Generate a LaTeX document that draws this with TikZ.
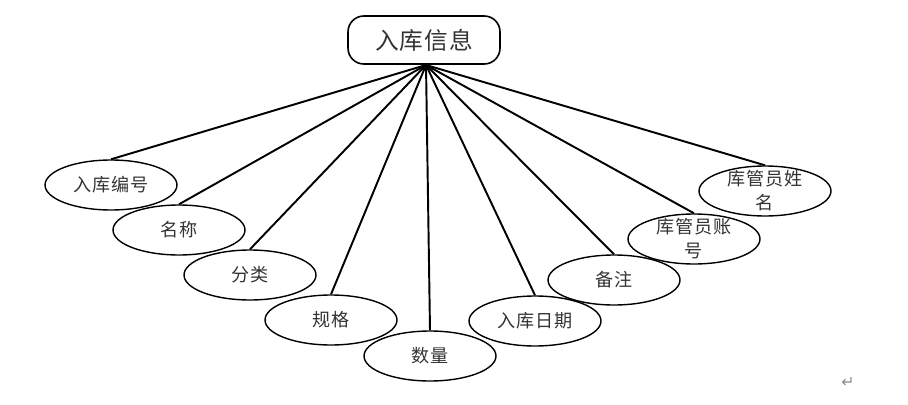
\documentclass[tikz,border=0pt]{standalone}
\usepackage{fontspec}
\newfontfamily\cjk[LetterSpace=4]{Noto Sans CJK SC}
\newfontfamily\symfont{DejaVu Sans}
\usetikzlibrary{positioning,shapes.geometric}

\begin{document}
\begin{tikzpicture}[x=0.02cm, y=-0.02cm,
  attr/.style={ellipse, draw, line width=0.8pt, minimum width=2.64cm, minimum height=1cm,
    inner sep=0pt, align=center, text=black!80, font=\cjk\fontsize{10.3}{13.6}\selectfont},
  attrtwo/.style={attr, inner ysep=-4pt},
  entity/.style={rectangle, draw, line width=0.9pt, rounded corners=9pt, minimum width=3.04cm,
    minimum height=0.96cm, text=black!80, font=\cjk\fontsize{13.5}{15}\selectfont},
  link/.style={line width=1.1pt}
]
  \useasboundingbox (0,0) rectangle (908,405);

  \node[entity] (info) at (424,40) {入库信息};

  \node[attr] (no)     at (111,185) {入库编号};
  \node[attr] (name)   at (179,230) {名称};
  \node[attr] (kind)   at (250,275) {分类};
  \node[attr] (spec)   at (331,320) {规格};
  \node[attr] (qty)    at (430,356) {数量};
  \node[attr] (date)   at (535,321) {入库日期};
  \node[attr] (note)   at (614,280) {备注};
  \node[attrtwo] (acct)   at (694,239) {库管员账\\号};
  \node[attrtwo] (keeper) at (765,191) {库管员姓\\名};

  \coordinate (hub) at (426,65);
  \draw[link] (hub) -- (no.north);
  \draw[link] (hub) -- (name.north);
  \draw[link] (hub) -- (kind.north);
  \draw[link] (hub) -- (spec.north);
  \draw[link] (hub) -- (qty.north);
  \draw[link] (hub) -- (date.north);
  \draw[link] (hub) -- (note.north);
  \draw[link] (hub) -- (acct.north);
  \draw[link] (hub) -- (keeper.north);

  % return mark
  \node[text=black!45, font=\symfont\small] (ret) at (848,383) {↵};
\end{tikzpicture}
\end{document}
